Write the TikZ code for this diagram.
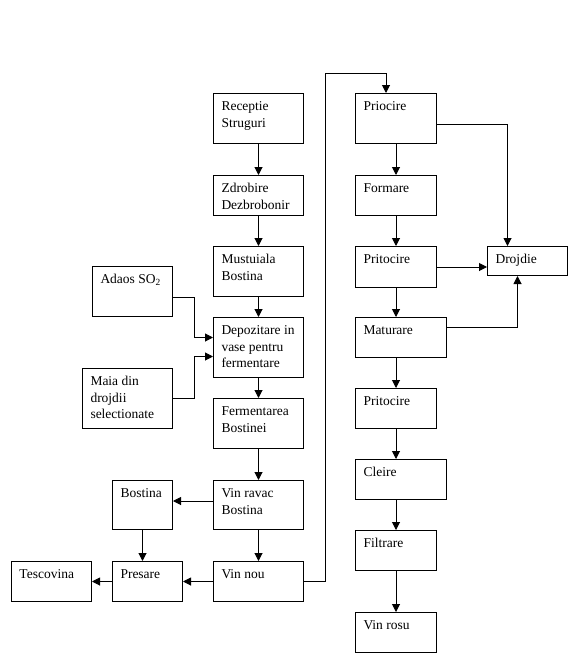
\documentclass[tikz,border=0pt]{standalone}
\usepackage{fontspec}
\setmainfont{Liberation Serif}
\usetikzlibrary{arrows.meta}
\newcommand{\bx}[3]{\parbox[t][#2][t]{#1}{\raggedright\leftskip=8pt\parindent=0pt\rule{0pt}{17pt}#3}}
\tikzset{
  box/.style={draw, anchor=north west, inner sep=0pt, line width=1pt},
  flow/.style={line width=1pt, -{Triangle[width=8pt,length=8pt]}}
}
\begin{document}
\begin{tikzpicture}[x=1pt, y=-1pt, font=\fontsize{13.5}{16.5}\selectfont]
		\useasboundingbox[fill=white] (0,0) rectangle (579,653);
		
		% left column
		\node[box] (rec) at (213,93) {\bx{90pt}{50pt}{Receptie\\Struguri}};
		\node[box] (zdr) at (213,175) {\bx{90pt}{40pt}{Zdrobire\\Dezbrobonir}};
		\node[box] (mus) at (213,246) {\bx{90pt}{50pt}{Mustuiala\\Bostina}};
		\node[box] (dep) at (213,317) {\bx{90pt}{60pt}{Depozitare in\\vase pentru\\fermentare}};
		\node[box] (fer) at (213,398) {\bx{90pt}{50pt}{Fermentarea\\Bostinei}};
		\node[box] (vra) at (213,480) {\bx{90pt}{49pt}{Vin ravac\\Bostina}};
		\node[box] (vno) at (213,561) {\bx{90pt}{40pt}{Vin nou}};
		
		\node[box] (ads) at (92,266) {\bx{80pt}{50pt}{Adaos SO\textsubscript{2}}};
		\node[box] (mai) at (82,368) {\bx{90pt}{60pt}{Maia din\\drojdii\\selectionate}};
		
		\node[box] (bos) at (112,480) {\bx{60pt}{49pt}{Bostina}};
		\node[box] (pre) at (112,561) {\bx{70pt}{40pt}{Presare}};
		\node[box] (tes) at (11,561) {\bx{80pt}{40pt}{Tescovina}};
		
		% right column
		\node[box] (pri) at (355,93) {\bx{81pt}{50pt}{Priocire}};
		\node[box] (frm) at (355,175) {\bx{81pt}{40pt}{Formare}};
		\node[box] (pt1) at (355,246) {\bx{81pt}{41pt}{Pritocire}};
		\node[box] (mat) at (355,317) {\bx{91pt}{40pt}{Maturare}};
		\node[box] (pt2) at (355,388) {\bx{81pt}{40pt}{Pritocire}};
		\node[box] (cle) at (355,459) {\bx{91pt}{40pt}{Cleire}};
		\node[box] (fil) at (355,530) {\bx{81pt}{40pt}{Filtrare}};
		\node[box] (vro) at (355,612) {\bx{81pt}{40pt}{Vin rosu}};
		
		\node[box] (dro) at (487,246) {\bx{80pt}{29pt}{Drojdie}};
		
		\coordinate (top) at (325,73);
		
		% connectors
		\draw[flow] (rec) -- (zdr);
		\draw[flow] (zdr) -- (mus);
		\draw[flow] (mus) -- (dep);
		\draw[flow] (dep) -- (fer);
		\draw[flow] (fer) -- (vra);
		\draw[flow] (vra) -- (vno);
		\draw[flow] ([yshift=-6pt]ads.east) -- ++(21,0) |- ([yshift=10pt]dep.west);
		\draw[flow] (mai.east) -- ++(21,0) |- ([yshift=-9pt]dep.west);
		\draw[flow] ([yshift=4pt]vra.west) -- ([yshift=4pt]vra.west -| bos.east);
		\draw[flow] (bos.south) -- (bos.south |- pre.north);
		\draw[flow] (vno.west) -- (pre.east);
		\draw[flow] (pre.west) -- (tes.east);
		\draw[flow] (vno.east) -| (top) -| ([xshift=-10pt]pri.north);
		
		\draw[flow] (pri) -- (frm);
		\draw[flow] (frm) -- (pt1);
		\draw[flow] (pt1.south) -- (pt1.south |- mat.north);
		\draw[flow] (pt1.south |- mat.south) -- (pt1.south |- pt2.north);
		\draw[flow] (pt2.south) -- (pt2.south |- cle.north);
		\draw[flow] (pt2.south |- cle.south) -- (pt2.south |- fil.north);
		\draw[flow] (fil.south) -- (fil.south |- vro.north);
		\draw[flow] ([yshift=-6pt]pri.east) -| ([xshift=-20pt]dro.north);
		\draw[flow] (pt1.east) -- (pt1.east -| dro.west);
		\draw[flow] ([yshift=10pt]mat.east) -| ([xshift=-10pt]dro.south);
		
\end{tikzpicture}
\end{document}
